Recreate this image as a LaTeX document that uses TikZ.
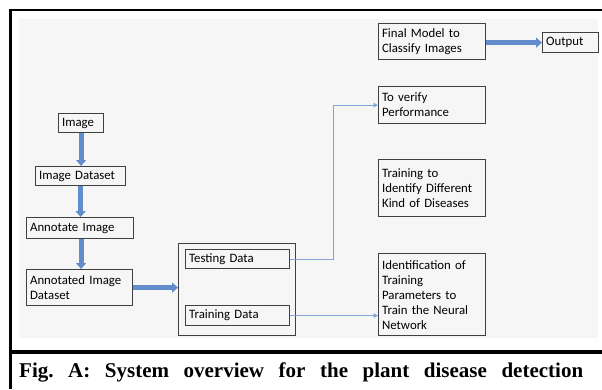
\documentclass[tikz,border=0pt]{standalone}
\usepackage{fontspec}
\setmainfont{Liberation Serif}
\newfontfamily\boxfont{Carlito}
\usetikzlibrary{arrows.meta}
\definecolor{bggray}{RGB}{246,246,246}
\definecolor{boxgray}{RGB}{64,64,64}
\definecolor{arrblue}{RGB}{98,140,204}
\definecolor{thinblue}{RGB}{130,165,215}
\frenchspacing
\begin{document}
\begin{tikzpicture}[x=1pt,y=-1pt,
  boxst/.style={draw=boxgray, line width=1.2pt, anchor=north west, inner xsep=3.5pt, inner ysep=1pt, align=left, font=\boxfont\fontsize{12.8}{15}\selectfont},
  thickarrow/.style={draw=arrblue, line width=5pt, -{Triangle[width=10pt,length=6pt]}},
  thinarrow/.style={draw=thinblue, line width=1pt, -{Triangle[width=4.5pt,length=4.5pt]}},
  frameline/.style={draw=black}]
\useasboundingbox (0,0) rectangle (602,389);
\fill[white] (0,0) rectangle (602,389);
\fill[bggray] (19,19) rectangle (598,338);
\draw[frameline, line width=2.5pt] (8.5,10) -- (602,10);
\draw[frameline, line width=3pt] (10,8.5) -- (10,389);
\draw[frameline, line width=4pt] (8.5,352) -- (602,352);

\node[boxst, minimum width=45pt, minimum height=19pt, text width=38pt] (img) at (58,113) {Image};
\node[boxst, minimum width=90pt, minimum height=19pt, text width=83pt] (imgds) at (35,166) {Image Dataset};
\node[boxst, minimum width=107pt, minimum height=21pt, text width=100pt] (annot) at (26,217) {Annotate Image};
\node[boxst, minimum width=106pt, minimum height=36pt, text width=99pt] (annotds) at (26,269) {Annotated Image\\Dataset};
\node[boxst, minimum width=117pt, minimum height=92pt] (group) at (178,243) {};
\node[boxst, minimum width=104pt, minimum height=19pt, text width=97pt] (test) at (185,249) {Testing Data};
\node[boxst, minimum width=104pt, minimum height=20pt, text width=97pt] (train) at (185,305) {Training Data};
\node[boxst, minimum width=107pt, minimum height=36pt, text width=100pt] (final) at (378,23) {Final Model to\\Classify Images};
\node[boxst, minimum width=56pt, minimum height=20pt, text width=49pt] (output) at (542,32) {Output};
\node[boxst, minimum width=107pt, minimum height=37pt, text width=100pt] (verify) at (378,86) {To verify\\Performance};
\node[boxst, minimum width=107pt, minimum height=57pt, text width=100pt] (traindis) at (378,159) {Training to\\Identify Different\\Kind of Diseases};
\node[boxst, minimum width=107pt, minimum height=82pt, text width=100pt] (ident) at (378,253) {Identification of\\Training\\Parameters to\\Train the Neural\\Network};

\draw[thickarrow] (img.south) -- (img.south |- imgds.north);
\draw[thickarrow] (imgds.south) -- (imgds.south |- annot.north);
\draw[thickarrow] ([xshift=1pt]annot.south) -- ([xshift=1pt]annot.south |- annotds.north);
\draw[thickarrow] (annotds.east) -- (annotds.east -| group.west);
\draw[thickarrow] (final.east |- output.west) -- (output.west);

\coordinate (bend) at (333,0);
\draw[thinarrow] (test.east) -- (bend |- test.east) -- (bend |- verify.west) -- (verify.west);
\draw[thinarrow] (train.east) -- (train.east -| ident.west);

\node[anchor=base west, inner sep=0pt, font=\bfseries\fontsize{21}{25}\selectfont] (cap) at (19,377) {\makebox[564pt][s]{Fig. A: System overview for the plant disease detection}};
\end{tikzpicture}
\end{document}
